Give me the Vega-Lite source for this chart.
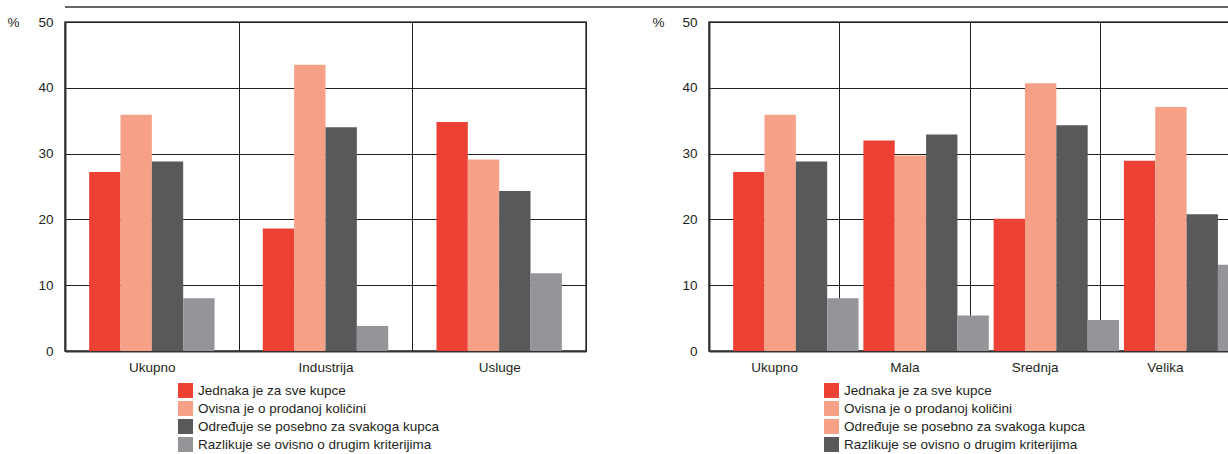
{
  "$schema": "https://vega.github.io/schema/vega-lite/v6.json",
  "padding": {"left": 6, "top": 6, "right": 0, "bottom": 0},
  "config": {
    "font": "Liberation Sans",
    "view": {"stroke": "#444", "strokeWidth": 1.5},
    "axis": {
      "labelFont": "Liberation Sans",
      "labelFontSize": 13.5,
      "labelColor": "#231f20",
      "domainColor": "#333",
      "domainWidth": 2,
      "ticks": false,
      "gridColor": "#231f20",
      "gridWidth": 1,
      "gridOpacity": 1
    },
    "legend": {
      "labelFont": "Liberation Sans",
      "labelFontSize": 13.5,
      "labelColor": "#231f20",
      "labelLimit": 0,
      "symbolType": "square",
      "symbolSize": 225,
      "symbolStrokeWidth": 0,
      "symbolOpacity": 1,
      "rowPadding": 3,
      "labelOffset": 5,
      "padding": 0
    }
  },
  "datasets": {
    "industry": [
      {"cat": "Ukupno", "series": "Jednaka je za sve kupce", "value": 27.2},
      {"cat": "Ukupno", "series": "Ovisna je o prodanoj količini", "value": 35.9},
      {"cat": "Ukupno", "series": "Određuje se posebno za svakoga kupca", "value": 28.8},
      {"cat": "Ukupno", "series": "Razlikuje se ovisno o drugim kriterijima", "value": 8.0},
      {"cat": "Industrija", "series": "Jednaka je za sve kupce", "value": 18.6},
      {"cat": "Industrija", "series": "Ovisna je o prodanoj količini", "value": 43.5},
      {"cat": "Industrija", "series": "Određuje se posebno za svakoga kupca", "value": 34.0},
      {"cat": "Industrija", "series": "Razlikuje se ovisno o drugim kriterijima", "value": 3.8},
      {"cat": "Usluge", "series": "Jednaka je za sve kupce", "value": 34.8},
      {"cat": "Usluge", "series": "Ovisna je o prodanoj količini", "value": 29.1},
      {"cat": "Usluge", "series": "Određuje se posebno za svakoga kupca", "value": 24.3},
      {"cat": "Usluge", "series": "Razlikuje se ovisno o drugim kriterijima", "value": 11.8}
    ],
    "size": [
      {"cat": "Ukupno", "series": "Jednaka je za sve kupce", "value": 27.2},
      {"cat": "Ukupno", "series": "Ovisna je o prodanoj količini", "value": 35.9},
      {"cat": "Ukupno", "series": "Određuje se posebno za svakoga kupca", "value": 28.8},
      {"cat": "Ukupno", "series": "Razlikuje se ovisno o drugim kriterijima", "value": 8.0},
      {"cat": "Mala", "series": "Jednaka je za sve kupce", "value": 32.0},
      {"cat": "Mala", "series": "Ovisna je o prodanoj količini", "value": 29.7},
      {"cat": "Mala", "series": "Određuje se posebno za svakoga kupca", "value": 32.9},
      {"cat": "Mala", "series": "Razlikuje se ovisno o drugim kriterijima", "value": 5.4},
      {"cat": "Srednja", "series": "Jednaka je za sve kupce", "value": 20.1},
      {"cat": "Srednja", "series": "Ovisna je o prodanoj količini", "value": 40.7},
      {"cat": "Srednja", "series": "Određuje se posebno za svakoga kupca", "value": 34.3},
      {"cat": "Srednja", "series": "Razlikuje se ovisno o drugim kriterijima", "value": 4.7},
      {"cat": "Velika", "series": "Jednaka je za sve kupce", "value": 28.9},
      {"cat": "Velika", "series": "Ovisna je o prodanoj količini", "value": 37.1},
      {"cat": "Velika", "series": "Određuje se posebno za svakoga kupca", "value": 20.8},
      {"cat": "Velika", "series": "Razlikuje se ovisno o drugim kriterijima", "value": 13.1}
    ],
    "rule": [{"from": 0, "to": 1}]
  },
  "vconcat": [
    {
      "width": 1222,
      "height": 1,
      "view": {"stroke": null},
      "data": {"name": "rule"},
      "mark": {"type": "rule", "color": "#333", "strokeWidth": 1.5},
      "encoding": {
        "x": {"field": "from", "type": "quantitative", "scale": {"domain": [0, 1]}, "axis": null},
        "x2": {"field": "to"},
        "y": {"datum": 0, "type": "quantitative", "scale": {"domain": [0, 1]}, "axis": null}
      }
    },
    {
      "hconcat": [
        {
          "width": 521,
          "height": 329,
          "data": {"name": "industry"},
          "mark": {"type": "bar"},
          "encoding": {
            "x": {
              "field": "cat", "type": "nominal",
              "sort": ["Ukupno", "Industrija", "Usluge"],
              "scale": {"paddingInner": 0, "paddingOuter": 0},
              "axis": {"title": null, "labelAngle": 0, "labelPadding": 9, "grid": true, "tickBand": "extent"}
            },
            "xOffset": {
              "field": "series", "type": "nominal",
              "scale": {
                "domain": ["Jednaka je za sve kupce", "Ovisna je o prodanoj količini", "Određuje se posebno za svakoga kupca", "Razlikuje se ovisno o drugim kriterijima"],
                "paddingInner": 0, "paddingOuter": 0.77
              }
            },
            "y": {
              "field": "value", "type": "quantitative",
              "scale": {"domain": [0, 50]},
              "axis": {
                "values": [0, 10, 20, 30, 40, 50], "grid": true, "labelPadding": 12,
                "title": "%", "titleAngle": 0, "titleX": -58, "titleY": 0,
                "titleAlign": "left", "titleBaseline": "middle",
                "titleFont": "Liberation Sans", "titleFontSize": 13.5, "titleFontWeight": "normal", "titleColor": "#231f20"
              }
            },
            "color": {
              "field": "series", "type": "nominal",
              "scale": {
                "domain": ["Jednaka je za sve kupce", "Ovisna je o prodanoj količini", "Određuje se posebno za svakoga kupca", "Razlikuje se ovisno o drugim kriterijima"],
                "range": ["#ee4136", "#f6a187", "#58595b", "#939598"]
              },
              "legend": {"orient": "none", "legendX": 113, "legendY": 361, "title": null}
            }
          }
        },
        {
          "width": 521,
          "height": 329,
          "data": {"name": "size"},
          "encoding": {
            "x": {
              "field": "cat", "type": "nominal",
              "sort": ["Ukupno", "Mala", "Srednja", "Velika"],
              "scale": {"paddingInner": 0, "paddingOuter": 0},
              "axis": {"title": null, "labelAngle": 0, "labelPadding": 9, "grid": true, "tickBand": "extent"}
            },
            "xOffset": {
              "field": "series", "type": "nominal",
              "scale": {
                "domain": ["Jednaka je za sve kupce", "Ovisna je o prodanoj količini", "Određuje se posebno za svakoga kupca", "Razlikuje se ovisno o drugim kriterijima"],
                "paddingInner": 0, "paddingOuter": 0.77
              }
            },
            "y": {
              "field": "value", "type": "quantitative",
              "scale": {"domain": [0, 50]},
              "axis": {
                "values": [0, 10, 20, 30, 40, 50], "grid": true, "labelPadding": 12,
                "title": "%", "titleAngle": 0, "titleX": -57, "titleY": 0,
                "titleAlign": "left", "titleBaseline": "middle",
                "titleFont": "Liberation Sans", "titleFontSize": 13.5, "titleFontWeight": "normal", "titleColor": "#231f20"
              }
            }
          },
          "layer": [
            {
              "mark": {"type": "bar"},
              "encoding": {
                "color": {
                  "field": "series", "type": "nominal",
                  "scale": {
                    "domain": ["Jednaka je za sve kupce", "Ovisna je o prodanoj količini", "Određuje se posebno za svakoga kupca", "Razlikuje se ovisno o drugim kriterijima"],
                    "range": ["#ee4136", "#f6a187", "#58595b", "#939598"]
                  },
                  "legend": null
                }
              }
            },
            {
              "transform": [{"filter": "datum.value < 0"}],
              "mark": {"type": "bar"},
              "encoding": {
                "color": {
                  "field": "series", "type": "nominal",
                  "scale": {
                    "domain": ["Jednaka je za sve kupce", "Ovisna je o prodanoj količini", "Određuje se posebno za svakoga kupca", "Razlikuje se ovisno o drugim kriterijima"],
                    "range": ["#ee4136", "#f6a187", "#f6a187", "#58595b"]
                  },
                  "legend": {"orient": "none", "legendX": 115, "legendY": 361, "title": null}
                }
              }
            }
          ],
          "resolve": {"scale": {"color": "independent"}, "legend": {"color": "independent"}}
        }
      ],
      "spacing": 64,
      "resolve": {"scale": {"color": "independent"}, "legend": {"color": "independent"}}
    }
  ],
  "spacing": 6
}
